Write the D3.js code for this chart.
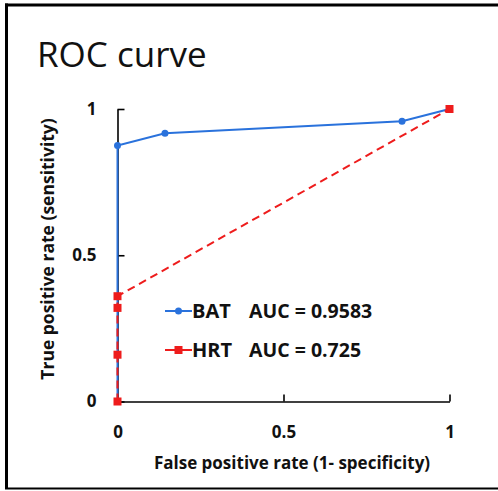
<!DOCTYPE html>
<html>
<head>
<meta charset="utf-8">
<script src="https://cdn.jsdelivr.net/npm/d3@7"></script>
<style>
  body { margin: 0; background: #fff; font-family: "Open Sans", sans-serif; }
  svg { display: block; }
  .tick text { font-weight: bold; font-size: 17px; fill: #111; }
</style>
</head>
<body>
<div class="graph"></div>
<script>
const width = 498;
const height = 491;

// chart data
const ticks = [0, 0.5, 1];
const bat_fpr = [0, 0, 0.143, 0.857, 1];
const bat_tpr = [0, 0.875, 0.917, 0.958, 1];
const hrt_fpr = [0, 0, 0, 0, 1];
const hrt_tpr = [0, 0.16, 0.32, 0.36, 1];
const series_names = ["BAT", "HRT"];
const auc_labels = ["AUC = 0.9583", "AUC = 0.725"];

const blue = "#2a72dc";
const red = "#ee1c1c";

let svg = d3.select('.graph').append('svg')
  .attr('width', width)
  .attr('height', height);

/* outer frame */
svg.append('line').attr('x1', 6.5).attr('x2', 6.5).attr('y1', 3.5).attr('y2', 489)
  .attr('stroke', '#000').attr('stroke-width', 3);
svg.append('line').attr('x1', 5).attr('x2', 498).attr('y1', 5).attr('y2', 5)
  .attr('stroke', '#000').attr('stroke-width', 3);
svg.append('line').attr('x1', 5).attr('x2', 498).attr('y1', 488.5).attr('y2', 488.5)
  .attr('stroke', '#000').attr('stroke-width', 2);

svg.append('text')
  .attr('x', 37).attr('y', 67)
  .attr('font-size', 35)
  .attr('fill', '#111')
  .text('ROC curve');

let x = d3.scaleLinear().domain([0, 1]).range([117.5, 449.5]);
let y = d3.scaleLinear().domain([0, 1]).range([401.5, 109]);

let xAxis = d3.axisBottom(x).tickValues(ticks).tickFormat(d3.format('')).tickSizeInner(-7).tickSizeOuter(0).tickPadding(24);
let yAxis = d3.axisLeft(y).tickValues(ticks).tickFormat(d3.format('')).tickSizeInner(-7).tickSizeOuter(0).tickPadding(21);

let gx = svg.append('g').attr('transform', 'translate(0,' + y(0) + ')').call(xAxis);
let gy = svg.append('g').attr('transform', 'translate(' + x(0) + ',0)').call(yAxis);
[gx, gy].forEach(g => {
  g.selectAll('path, line').attr('stroke', '#000').attr('stroke-width', 1.6);
  g.selectAll('text').attr('font-family', '"Open Sans", sans-serif');
});

svg.append('text')
  .attr('x', 292).attr('y', 469)
  .attr('text-anchor', 'middle')
  .attr('font-size', 17).attr('font-weight', 'bold').attr('fill', '#111')
  .text('False positive rate (1- specificity)');

svg.append('text')
  .attr('transform', 'translate(54,249) rotate(-90)')
  .attr('text-anchor', 'middle')
  .attr('font-size', 17.5).attr('font-weight', 'bold').attr('fill', '#111')
  .text('True positive rate (sensitivity)');

let line = d3.line().x(d => x(d[0])).y(d => y(d[1]));
let bat = bat_fpr.map((v, i) => [v, bat_tpr[i]]);
let hrt = hrt_fpr.map((v, i) => [v, hrt_tpr[i]]);

svg.append('path').datum(bat)
  .attr('d', line).attr('fill', 'none')
  .attr('stroke', blue).attr('stroke-width', 2);
svg.selectAll('.bat-pt').data(bat).enter().append('circle')
  .attr('class', 'bat-pt')
  .attr('cx', d => x(d[0])).attr('cy', d => y(d[1])).attr('r', 3.5)
  .attr('fill', blue);

svg.append('path').datum(hrt)
  .attr('d', line).attr('fill', 'none')
  .attr('stroke', red).attr('stroke-width', 2)
  .attr('stroke-dasharray', '8,5');
svg.selectAll('.hrt-pt').data(hrt).enter().append('rect')
  .attr('class', 'hrt-pt')
  .attr('x', d => x(d[0]) - 4).attr('y', d => y(d[1]) - 4)
  .attr('width', 8).attr('height', 8)
  .attr('fill', red);

/* legend */
let legend = svg.append('g').selectAll('g')
  .data(series_names)
  .enter().append('g')
  .attr('transform', (d, i) => 'translate(165,' + (311 + 39 * i) + ')');

legend.append('line')
  .attr('x1', 0).attr('x2', 27).attr('y1', 0).attr('y2', 0)
  .attr('stroke', (d, i) => i === 0 ? blue : red).attr('stroke-width', 2);
legend.filter((d, i) => i === 0).append('circle')
  .attr('cx', 13.5).attr('cy', 0).attr('r', 3.5).attr('fill', blue);
legend.filter((d, i) => i === 1).append('rect')
  .attr('x', 9.5).attr('y', -4).attr('width', 8).attr('height', 8).attr('fill', red);
legend.append('text')
  .attr('x', 27).attr('y', 7)
  .attr('font-size', 20).attr('font-weight', 'bold').attr('fill', '#111')
  .text(d => d);
legend.append('text')
  .attr('x', 84).attr('y', 7)
  .attr('font-size', 19.5).attr('font-weight', 'bold').attr('fill', '#111')
  .text((d, i) => auc_labels[i]);
</script>
</body>
</html>
